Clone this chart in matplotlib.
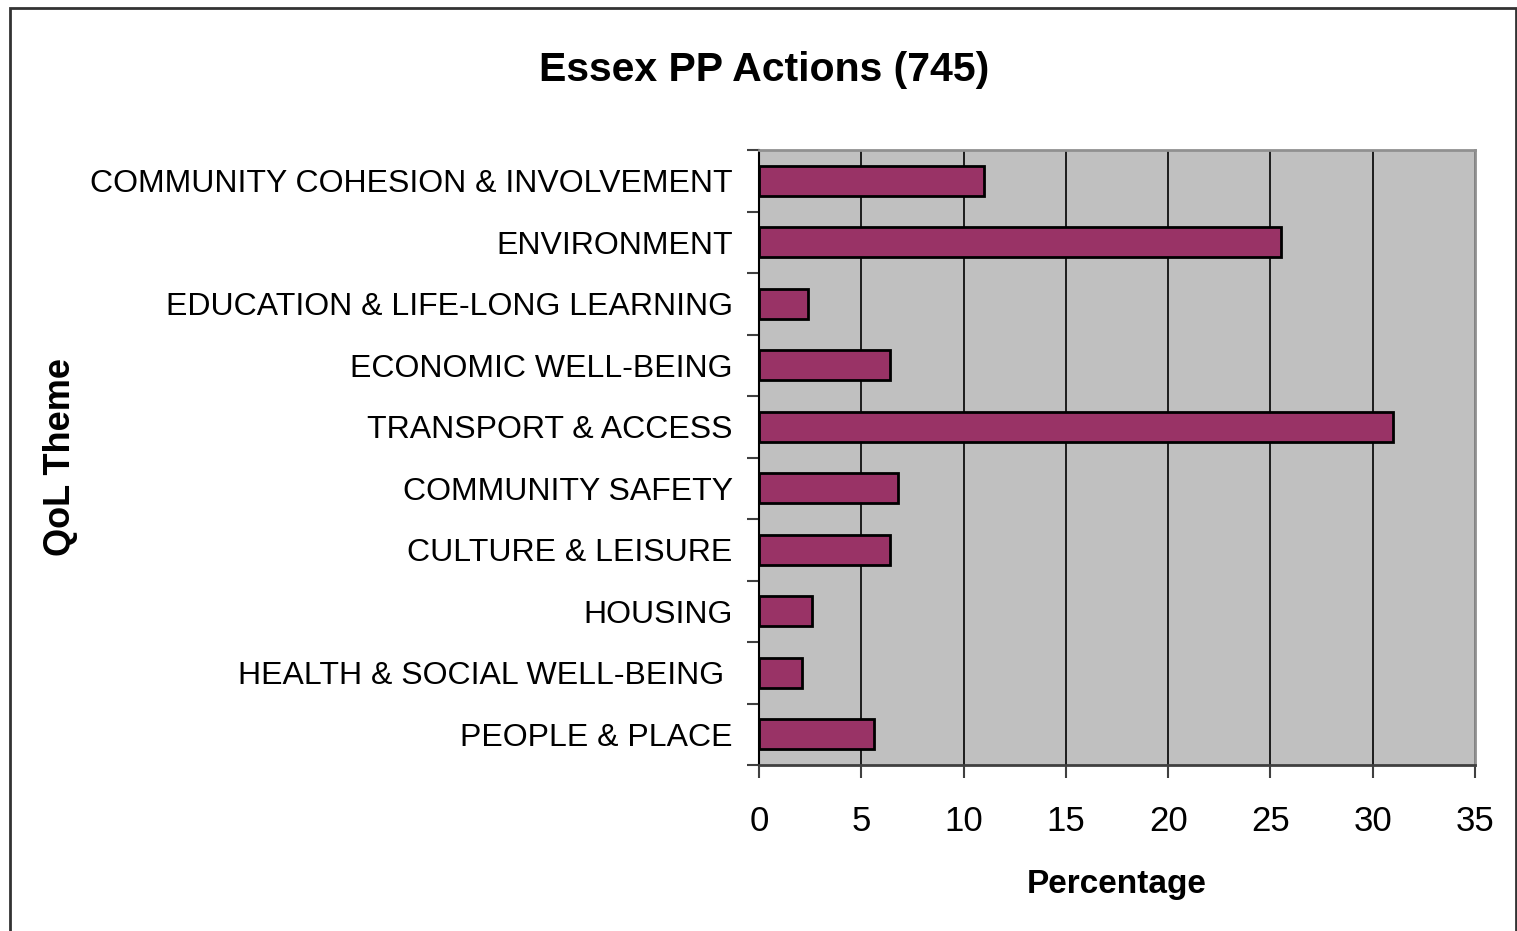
import numpy as np
import matplotlib
matplotlib.use("Agg")
import matplotlib.pyplot as plt
from matplotlib.patches import Rectangle

# QoL themes, top to bottom as in the chart
themes = [
    "COMMUNITY COHESION & INVOLVEMENT",
    "ENVIRONMENT",
    "EDUCATION & LIFE-LONG LEARNING",
    "ECONOMIC WELL-BEING",
    "TRANSPORT & ACCESS",
    "COMMUNITY SAFETY",
    "CULTURE & LEISURE",
    "HOUSING",
    "HEALTH & SOCIAL WELL-BEING ",
    "PEOPLE & PLACE",
]
percentages = [11.0, 25.5, 2.4, 6.4, 31.0, 6.8, 6.4, 2.6, 2.1, 5.6]
xticks = [0, 5, 10, 15, 20, 25, 30, 35]

plt.rcParams['font.family'] = ['Liberation Sans', 'DejaVu Sans']

fig = plt.figure(figsize=(15.17, 9.31), dpi=100)
ax = fig.add_axes([759/1517, 1-765/931, (1475-759)/1517, (765-150)/931])

ypos = np.arange(len(themes))
ax.barh(ypos, percentages, height=0.48, color="#993366",
        edgecolor="black", linewidth=2, zorder=3)

ax.set_facecolor("#C0C0C0")
ax.set_xlim(0, 35)
ax.set_ylim(len(themes) - 0.5, -0.5)
ax.set_xticks(xticks)
ax.set_xticklabels([str(t) for t in xticks])
ax.xaxis.grid(True, color="black", linewidth=1.2, zorder=1)

# y ticks sit at the category boundaries, labels in the middle
ax.set_yticks(np.arange(-0.5, len(themes)), minor=False)
ax.set_yticklabels([])
ax.set_yticks(ypos, minor=True)
ax.set_yticklabels(themes, minor=True)
ax.tick_params(axis="y", which="minor", length=0, pad=19, labelsize=23)
ax.tick_params(axis="y", which="major", length=9, width=1.5, color="#404040")
ax.tick_params(axis="x", length=9, width=1.5, color="#404040", pad=20, labelsize=25)

for s in ["top", "right"]:
    ax.spines[s].set_color("#909090")
    ax.spines[s].set_linewidth(2)
ax.spines["left"].set_color("black")
ax.spines["left"].set_linewidth(1.5)
ax.spines["bottom"].set_color("#404040")
ax.spines["bottom"].set_linewidth(2)

ax.set_xlabel("Percentage", fontsize=24, fontweight="bold", labelpad=22)
fig.text(60/1517, 1-457/931, "QoL Theme", fontsize=26, fontweight="bold",
         rotation=90, ha="center", va="center")
fig.text(764/1517, 1-70/931, "Essex PP Actions (745)", fontsize=29.5,
         fontweight="bold", ha="center", va="center")

# outer chart frame (bottom edge is cut off in the original)
frame = Rectangle((10/1517, -0.05), (1516-10)/1517, 1.05-8/931,
                  transform=fig.transFigure, fill=False,
                  edgecolor="#333333", linewidth=2, clip_on=False)
fig.patches.append(frame)

fig.savefig("out.png", dpi=100)
